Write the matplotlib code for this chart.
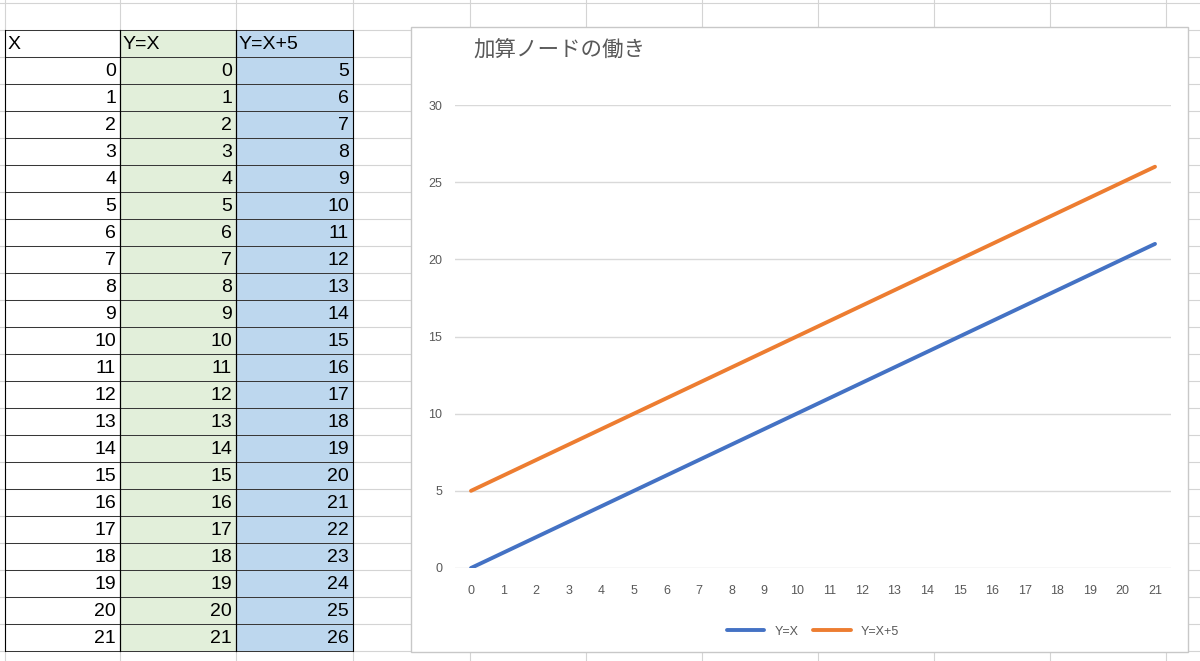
import matplotlib
matplotlib.use("Agg")
import matplotlib.pyplot as plt
from matplotlib.patches import Rectangle

plt.rcParams['font.family'] = ['Liberation Sans', 'Noto Sans CJK JP', 'DejaVu Sans']

x_vals = list(range(22))
y_x = [0, 1, 2, 3, 4, 5, 6, 7, 8, 9, 10, 11, 12, 13, 14, 15, 16, 17, 18, 19, 20, 21]
y_x5 = [5, 6, 7, 8, 9, 10, 11, 12, 13, 14, 15, 16, 17, 18, 19, 20, 21, 22, 23, 24, 25, 26]
headers = ["X", "Y=X", "Y=X+5"]
chart_title = "加算ノードの働き"
series_names = ["Y=X", "Y=X+5"]

W, H = 1200, 661
fig = plt.figure(figsize=(W / 100, H / 100), dpi=100)
bg = fig.add_axes([0, 0, 1, 1])
bg.set_xlim(0, W)
bg.set_ylim(H, 0)
bg.axis("off")

# spreadsheet grid
col_edges = [5, 120, 236, 353, 470, 586, 702, 818, 934, 1050, 1166]
row_h = 27
top = 30
grid = "#d4d4d4"
for x in col_edges:
    bg.plot([x, x], [0, H], color=grid, lw=0.8)
for i in range(-1, 24):
    y = top + i * row_h
    bg.plot([0, W], [y, y], color=grid, lw=0.8)

# table cells
fills = [None, "#E2EFDA", "#BDD7EE"]
columns = [x_vals, y_x, y_x5]
n_rows = len(x_vals) + 1
for c in range(3):
    x0, x1 = col_edges[c], col_edges[c + 1]
    if fills[c]:
        bg.add_patch(Rectangle((x0, top), x1 - x0, n_rows * row_h, facecolor=fills[c],
                               edgecolor="none", zorder=1))
    bg.text(x0 + 3, top + row_h / 2 + 1, headers[c], fontsize=14, va="center", ha="left", zorder=3)
    for r, v in enumerate(columns[c]):
        yc = top + (r + 1.5) * row_h + 1
        bg.text(x1 - 4, yc, str(v), fontsize=14, va="center", ha="right", zorder=3)
    for r in range(n_rows + 1):
        y = top + r * row_h
        bg.plot([x0, x1], [y, y], color="#333333", lw=0.7, zorder=2)
    bg.plot([x0, x0], [top, top + n_rows * row_h], color="black", lw=0.8, zorder=2)
    bg.plot([x1, x1], [top, top + n_rows * row_h], color="black", lw=0.8, zorder=2)

# chart area
bg.add_patch(Rectangle((411, 27), 777, 625, facecolor="white", edgecolor="#c8c8c8", lw=1, zorder=4))
bg.text(473, 50, chart_title, fontsize=15.5, color="#595959", va="center", ha="left", zorder=5,
        family=['Noto Sans CJK JP', 'DejaVu Sans'])

# plot axes: x 0 at px 471, 21 at px 1155; y 0 at px 568, 30 at px 105
pad = 0.5
px_per_x = (1155 - 471) / 21
left = 471 - pad * px_per_x
right = 1155 + pad * px_per_x
ax = fig.add_axes([left / W, 1 - 568 / H, (right - left) / W, (568 - 105) / H], zorder=6)
ax.patch.set_alpha(0)
ax.plot(x_vals, y_x, color="#4472C4", lw=2.8, solid_capstyle="round", label=series_names[0])
ax.plot(x_vals, y_x5, color="#ED7D31", lw=2.8, solid_capstyle="round", label=series_names[1])
ax.set_xlim(-pad, 21 + pad)
ax.set_ylim(0, 30)
ax.set_yticks(range(0, 31, 5))
ax.set_xticks(x_vals)
ax.yaxis.grid(True, color="#d9d9d9", lw=1)
ax.set_axisbelow(True)
for s in ax.spines.values():
    s.set_visible(False)
ax.tick_params(length=0, labelsize=9, labelcolor="#595959", pad=12)
ax.tick_params(axis="y", pad=9)
ax.legend(loc="upper center", bbox_to_anchor=(0.5, -0.1), ncol=2, frameon=False,
          fontsize=9, labelcolor="#595959", handlelength=3, columnspacing=1.2)

fig.savefig("out.png", dpi=100)
